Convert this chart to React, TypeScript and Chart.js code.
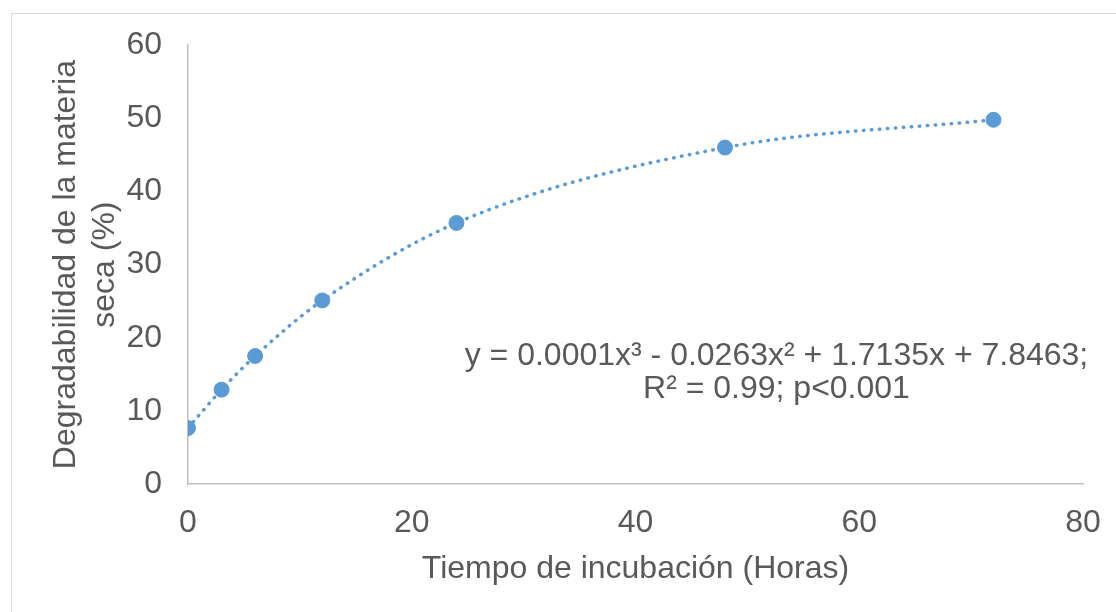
import React, { useEffect, useRef } from "react";
import { Chart, registerables } from "chart.js";

Chart.register(...registerables);

const hours = [0, 3, 6, 12, 24, 48, 72];
const degradability = [7.65, 12.9, 17.5, 25.1, 35.7, 46.0, 49.8];
const xTicks = [0, 20, 40, 60, 80];
const yTicks = [0, 10, 20, 30, 40, 50, 60];
const equationLines = ["y = 0.0001x³ - 0.0263x² + 1.7135x + 7.8463;", "R² = 0.99; p<0.001"];

const BLUE = "#5b9bd5";
const TEXT = "#595959";
const FONT = "'Liberation Sans', Arial, sans-serif";

export default function App() {
  const ref = useRef<HTMLCanvasElement | null>(null);

  useEffect(() => {
    if (!ref.current) return;
    const points = hours.map((h, i) => ({ x: h, y: degradability[i] }));

    const equationPlugin = {
      id: "equation",
      afterDatasetsDraw(chart: any) {
        const { ctx, scales } = chart;
        const cx = scales.x.getPixelForValue(52.6);
        ctx.save();
        ctx.fillStyle = TEXT;
        ctx.font = `32px ${FONT}`;
        ctx.textAlign = "center";
        ctx.textBaseline = "middle";
        ctx.fillText(equationLines[0], cx, scales.y.getPixelForValue(17.5));
        ctx.fillText(equationLines[1], cx, scales.y.getPixelForValue(13.0));
        ctx.restore();
      },
    };

    const chart = new Chart(ref.current, {
      type: "scatter",
      data: {
        datasets: [
          {
            type: "line",
            data: points,
            borderColor: BLUE,
            borderWidth: 3.5,
            borderDash: [0.5, 7.5],
            borderCapStyle: "round",
            cubicInterpolationMode: "monotone",
            pointRadius: 0,
            fill: false,
            order: 0,
          } as any,
          {
            type: "scatter",
            data: points,
            backgroundColor: BLUE,
            borderColor: BLUE,
            pointRadius: 7.5,
            pointHoverRadius: 7.5,
            order: 1,
          } as any,
        ],
      },
      options: {
        animation: false,
        responsive: false,
        maintainAspectRatio: false,
        events: [],
        layout: { padding: { top: 45, right: 33, left: 0, bottom: 0 } },
        plugins: { legend: { display: false }, tooltip: { enabled: false } },
        scales: {
          x: {
            type: "linear",
            min: 0,
            max: 80,
            afterBuildTicks: (s: any) => {
              s.ticks = xTicks.map((v) => ({ value: v }));
            },
            afterFit: (s: any) => {
              s.height = 128;
              s.paddingRight = 0;
              s.paddingLeft = 0;
            },
            grid: { display: false, drawTicks: false },
            border: { display: true, color: "#bfbfbf", width: 1.5 },
            ticks: { color: TEXT, font: { family: FONT, size: 32 }, padding: 20 },
            title: {
              display: true,
              text: "Tiempo de incubación (Horas)",
              color: TEXT,
              font: { family: FONT, size: 32, lineHeight: 1.2 },
              padding: { top: 0, bottom: 24 },
            },
          },
          y: {
            type: "linear",
            min: 0,
            max: 60,
            afterBuildTicks: (s: any) => {
              s.ticks = yTicks.map((v) => ({ value: v }));
            },
            afterFit: (s: any) => {
              s.width = 188;
            },
            grid: { display: false, drawTicks: false },
            border: { display: true, color: "#bfbfbf", width: 1.5 },
            ticks: { color: TEXT, font: { family: FONT, size: 32 }, padding: 26 },
            title: {
              display: true,
              text: ["Degradabilidad de la materia", "seca (%)"],
              color: TEXT,
              font: { family: FONT, size: 32, lineHeight: 1.22 },
              padding: { top: 47, bottom: 0 },
            },
          },
        },
      },
      plugins: [equationPlugin],
    });
    return () => chart.destroy();
  }, []);

  return (
    <div style={{ position: "fixed", left: 0, top: 0, width: 1116, height: 612, background: "#fff", overflow: "hidden" }}>
      <div
        style={{
          position: "absolute",
          left: 11,
          top: 13,
          width: 1200,
          height: 700,
          border: "1.5px solid #d9d9d9",
          boxSizing: "border-box",
        }}
      />
      <canvas ref={ref} width={1116} height={612} style={{ position: "absolute", left: 0, top: 0 }} />
    </div>
  );
}
